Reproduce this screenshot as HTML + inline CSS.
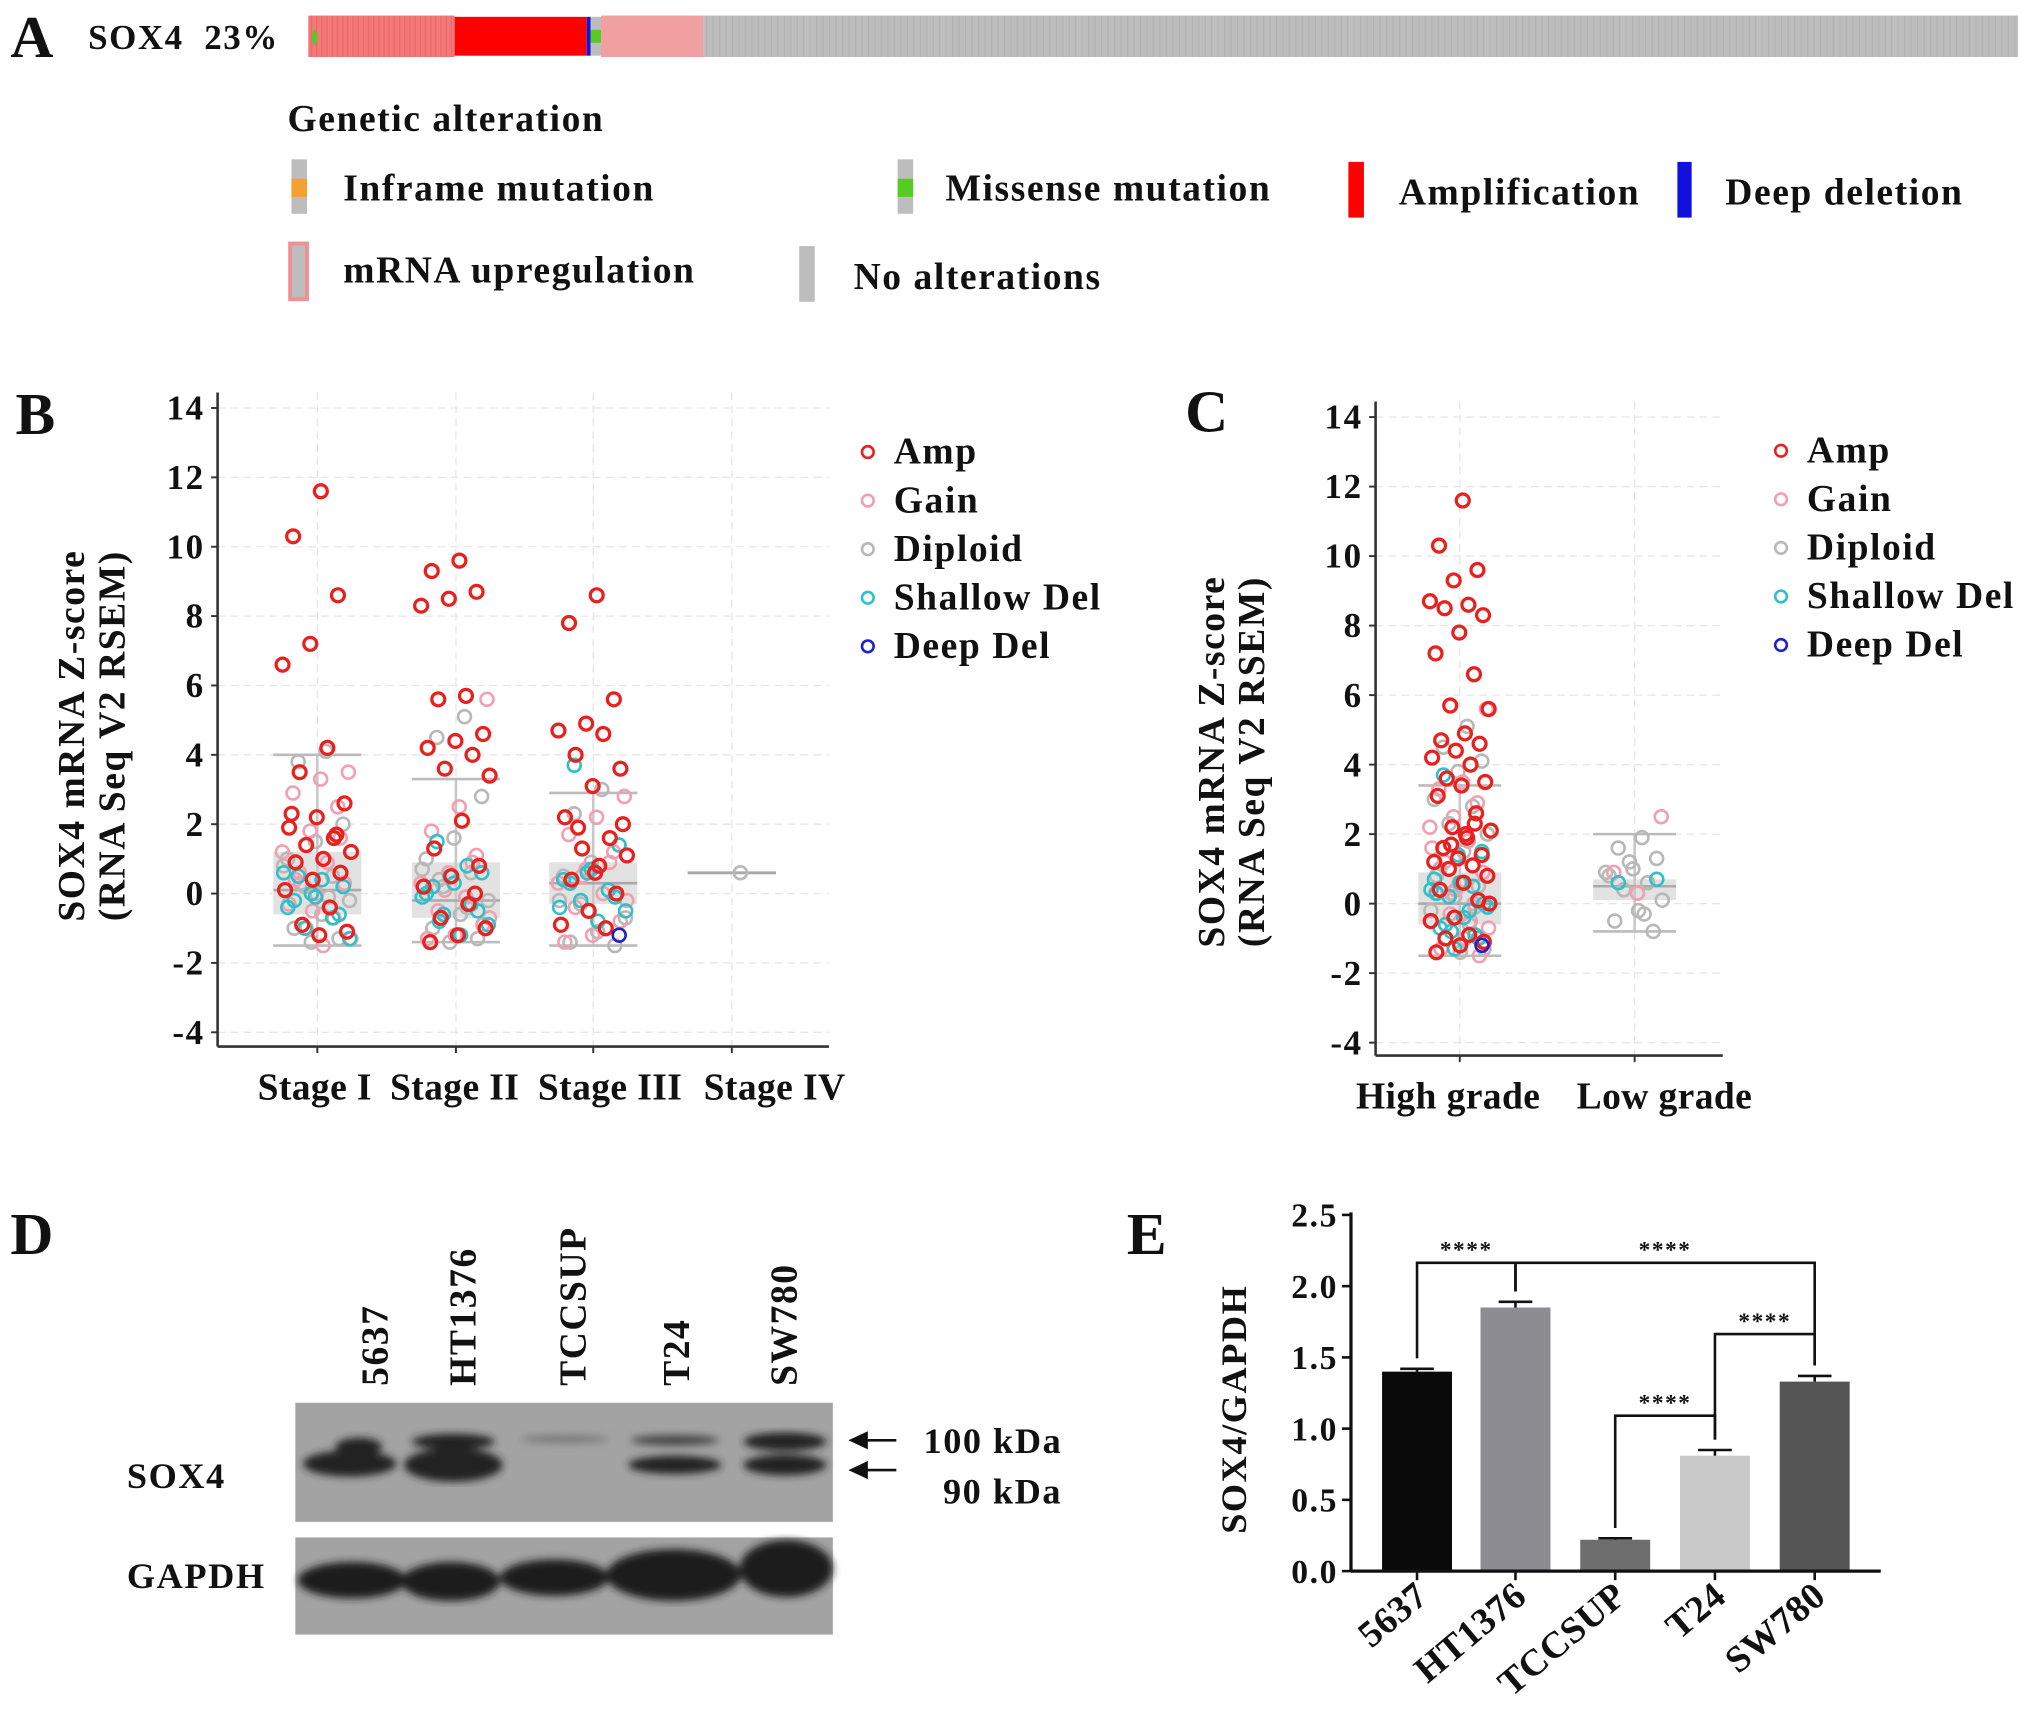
<!DOCTYPE html>
<html><head><meta charset="utf-8">
<style>
html,body{margin:0;padding:0;background:#fff;}
svg{display:block;}
text{font-family:"Liberation Serif",serif;font-weight:bold;fill:#111;letter-spacing:1.2px;}
text.cat{letter-spacing:0.3px;}
</style></head>
<body>
<svg id="fig" width="2031" height="1722" viewBox="0 0 1568 1329.5" preserveAspectRatio="none" xmlns="http://www.w3.org/2000/svg">
<defs>
<pattern id="stripes" width="4" height="10" patternUnits="userSpaceOnUse"><rect width="4" height="10" fill="#f47878"/><rect width="1" height="10" fill="#e86a6a"/></pattern>
<pattern id="gstripes" width="5" height="10" patternUnits="userSpaceOnUse"><rect width="5" height="10" fill="#bdbdbd"/><rect width="1" height="10" fill="#b2b2b2"/></pattern>
<filter id="blur"><feGaussianBlur stdDeviation="3"/></filter>
</defs>

<g>
<text x="8" y="44" font-size="46">A</text>
<text x="68" y="38" font-size="27">SOX4&#160; 23%</text>
<rect x="543" y="12" width="1015" height="32" fill="url(#gstripes)"/>
<rect x="238" y="12" width="113" height="32" fill="url(#stripes)"/>
<rect x="351" y="13" width="102" height="30" fill="#ff0000"/>
<rect x="453" y="13" width="3" height="30" fill="#1010e0"/>
<rect x="456" y="13" width="8" height="30" fill="#bdbdbd"/>
<rect x="456" y="23" width="8" height="10" fill="#55cc22"/>
<rect x="464" y="12" width="79" height="32" fill="#f0a0a0"/>
<ellipse cx="243" cy="29" rx="2" ry="6" fill="#55cc22"/>
<text x="222" y="101" font-size="29">Genetic alteration</text>
<g><rect x="225" y="123" width="12" height="42" fill="#bdbdbd"/><rect x="225" y="138" width="12" height="14" fill="#f5a030"/><text x="265" y="155" font-size="29">Inframe mutation</text></g>
<g><rect x="693" y="123" width="12" height="42" fill="#bdbdbd"/><rect x="693" y="138" width="12" height="14" fill="#55cc22"/><text x="730" y="155" font-size="29">Missense mutation</text></g>
<g><rect x="1041" y="125" width="12" height="43" fill="#ff0000"/><text x="1080" y="158" font-size="29">Amplification</text></g>
<g><rect x="1295" y="125" width="11" height="43" fill="#1010e0"/><text x="1332" y="158" font-size="29">Deep deletion</text></g>
<g><rect x="224" y="188" width="13" height="43" fill="#bdbdbd" stroke="#f09090" stroke-width="3"/><text x="265" y="218" font-size="29">mRNA upregulation</text></g>
<g><rect x="617" y="190" width="12" height="43" fill="#bdbdbd"/><text x="659" y="223" font-size="29">No alterations</text></g>
</g>

<g id="panelB"></g>
<g id="panelC"></g>

<g>
<text x="8" y="968" font-size="46">D</text>
<g font-size="29">
<text transform="translate(299,1070) rotate(-90)">5637</text>
<text transform="translate(367,1070) rotate(-90)">HT1376</text>
<text transform="translate(452,1070) rotate(-90)">TCCSUP</text>
<text transform="translate(532,1070) rotate(-90)">T24</text>
<text transform="translate(615,1070) rotate(-90)">SW780</text>
</g>
<g>
<rect x="228" y="1083" width="415" height="92" fill="#a3a3a3"/>
<g filter="url(#blur)" fill="#222">
<ellipse cx="270" cy="1130" rx="36" ry="10"/><ellipse cx="277" cy="1117" rx="18" ry="7"/>
<ellipse cx="350" cy="1131" rx="38" ry="13"/><ellipse cx="350" cy="1113" rx="32" ry="6"/>
<ellipse cx="436" cy="1111" rx="34" ry="3" fill="#777"/>
<ellipse cx="521" cy="1131" rx="36" ry="7"/><ellipse cx="521" cy="1112" rx="34" ry="4" fill="#444"/>
<ellipse cx="606" cy="1131" rx="32" ry="8"/><ellipse cx="606" cy="1113" rx="32" ry="7"/>
</g></g>
<g>
<rect x="228" y="1187" width="415" height="75" fill="#a3a3a3"/>
<g filter="url(#blur)" fill="#1e1e1e">
<ellipse cx="272" cy="1220" rx="42" ry="14"/><ellipse cx="348" cy="1221" rx="38" ry="15"/>
<ellipse cx="428" cy="1218" rx="42" ry="14"/><ellipse cx="520" cy="1216" rx="52" ry="20"/>
<ellipse cx="607" cy="1211" rx="36" ry="22"/>
</g></g>
<text x="98" y="1149" font-size="28">SOX4</text>
<text x="98" y="1226" font-size="28">GAPDH</text>
<g><line x1="668" y1="1112" x2="692" y2="1112" stroke="#111" stroke-width="2"/><polygon points="655,1112 670,1105 670,1119" fill="#111"/></g>
<g><line x1="668" y1="1135" x2="692" y2="1135" stroke="#111" stroke-width="2"/><polygon points="655,1135 670,1128 670,1142" fill="#111"/></g>
<text x="713" y="1122" font-size="28">100 kDa</text>
<text x="728" y="1161" font-size="28">90 kDa</text>
</g>

<g id="panelE"></g>
</svg>

<script>
const NS="http://www.w3.org/2000/svg";
function mk(parent,tag,attrs,txt){const e=document.createElementNS(NS,tag);for(const k in attrs)e.setAttribute(k,attrs[k]);if(txt!==undefined)e.textContent=txt;parent.appendChild(e);return e;}
const COLORS={amp:"#e8201e",gain:"#f0a0b0",dip:"#b8b8b8",shal:"#30c0c8",deep:"#2020d0"};

const stageCats=["Stage I","Stage II","Stage III","Stage IV"];
const yTicksZ=[14,12,10,8,6,4,2,0,-2,-4];
const stageBoxQ1=[-0.6,-0.7,-0.3,0.55];
const stageBoxMed=[0.1,-0.2,0.3,0.6];
const stageBoxQ3=[1.2,0.9,0.9,0.65];
const stageWhLo=[-1.5,-1.4,-1.5,0.6];
const stageWhHi=[4.0,3.3,2.9,0.6];
const stageAmp=[[11.6,10.3,8.6,7.2,6.6,4.2,3.5,2.6,2.2,1.9,1.6,1.4,1.2,1.0,0.9,0.6,0.4,0.1,-0.4,-0.9,-1.1,-1.2,2.3,1.7],
 [9.6,9.3,8.7,8.5,8.3,5.7,5.6,4.6,4.4,4.2,4.0,3.6,3.4,2.1,1.3,0.8,0.5,0.2,-0.3,-0.7,-1.0,-1.2,-1.4,0.0],
 [8.6,7.8,5.6,4.9,4.7,4.6,4.0,3.6,3.1,2.2,1.6,1.3,1.1,0.8,0.4,0.0,-0.5,-0.9,-1.0,1.9,2.0,0.6],
 []];
const stageGain=[[3.5,3.3,2.9,2.5,1.8,1.2,0.9,0.6,0.3,0.0,-0.3,-0.7,-1.0,-1.3,-1.5,0.4,1.6,-0.5],
 [5.6,2.5,1.8,1.1,0.6,0.3,-0.1,-0.5,-0.9,-1.2,-1.3,0.9,0.1,-0.7],
 [2.8,2.2,1.7,1.2,0.7,0.3,0.0,-0.4,-0.8,-1.2,-1.4,0.9,0.5,-0.2],
 []];
const stageDip=[[4.1,3.8,2.0,1.5,1.0,0.5,0.2,-0.2,-0.6,-1.0,-1.3,-1.4,0.8,-0.1,0.3],
 [5.1,4.5,2.8,1.6,1.0,0.6,0.2,-0.2,-0.6,-1.0,-1.3,-1.4,0.7,-0.4,0.4],
 [3.0,2.3,1.4,0.9,0.5,0.1,-0.3,-0.7,-1.1,-1.4,-1.5,0.7,-0.2],
 [0.6]];
const stageShal=[[0.5,0.2,-0.1,-0.4,-0.7,-1.0,-1.3,0.4,-0.2,-0.6,0.0,0.6],
 [1.5,0.6,0.3,0.0,-0.3,-0.6,-0.9,-1.2,0.2,-0.5,0.5,-0.1,0.8,-0.8],
 [3.7,1.4,0.7,0.4,0.1,-0.2,-0.5,-0.8,0.3,-0.1,0.6,-0.4],
 []];
const stageDeep=[[],[],[-1.2],[]];

const gradeCats=["High grade","Low grade"];
const gradeBoxQ1=[-0.6,0.1];
const gradeBoxMed=[0.0,0.5];
const gradeBoxQ3=[0.9,0.7];
const gradeWhLo=[-1.5,-0.8];
const gradeWhHi=[3.4,2.0];
const gradeAmp=[[11.6,10.3,9.6,9.3,8.7,8.6,8.5,8.3,7.8,7.2,6.6,5.7,5.6,4.9,4.7,4.6,4.4,4.2,4.0,3.6,3.5,3.4,3.1,2.6,2.2,2.1,1.9,1.6,1.4,1.3,1.2,1.1,1.0,0.8,0.6,0.4,0.1,-0.4,-0.5,-0.9,-1.0,-1.1,-1.2,-1.4,2.3,1.7,0.0,2.0],[]];
const gradeGain=[[5.6,3.5,3.3,2.9,2.5,2.2,1.8,1.2,0.9,0.6,0.3,0.0,-0.3,-0.7,-1.0,-1.3,-1.5,0.4,1.6,-0.5],[2.5,0.3,0.9]];
const gradeDip=[[5.1,4.5,4.1,3.8,3.0,2.8,2.3,2.0,1.5,1.0,0.5,0.2,-0.2,-0.6,-1.0,-1.3,-1.4,0.8,-0.1,0.3],[1.9,1.6,1.3,1.0,0.8,0.6,0.4,0.1,-0.2,-0.5,-0.8,1.2,0.9,-0.3]];
const gradeShal=[[3.7,1.5,1.4,0.7,0.5,0.2,-0.1,-0.4,-0.7,-1.0,-1.3,0.4,-0.2,-0.6,0.0,0.6,0.3,-0.9,-0.8],[0.6,0.7]];
const gradeDeep=[[-1.2],[]];

const lines=["5637","HT1376","TCCSUP","T24","SW780"];
const ratioVals=[1.40,1.85,0.22,0.81,1.33];
const ratioErr=[0.02,0.04,0.01,0.04,0.04];
const eTicks=["0.0","0.5","1.0","1.5","2.0","2.5"];
const barColors=["#0a0a0a","#8c8c92","#6e6e6e","#c9c9c9","#555555"];
const sigPairs=[[0,1],[1,4],[2,3],[3,4]];
const sigLabels=["****","****","****","****"];

function jitter(i,salt){const f=((i+1)*0.6180339887+salt*0.31)%1;return (f-0.5);}

function scatterPanel(g,o){
  const yS=v=>o.y14+(14-v)*(o.y_4-o.y14)/18;
  o.yTicks.forEach(t=>{const l=mk(g,"line",{x1:o.x0,x2:o.x1,y1:yS(t),y2:yS(t),stroke:"#e6e6e6","stroke-dasharray":"6,4"});
    
    
    const tx=mk(g,"text",{x:o.x0-10,y:yS(t)+9,"font-size":27,"text-anchor":"end"},String(t));
    
    
    mk(g,"line",{x1:o.x0-5,x2:o.x0,y1:yS(t),y2:yS(t),stroke:"#333","stroke-width":1.5});
  });
  o.cats.forEach((c,i)=>{mk(g,"line",{x1:o.cx[i],x2:o.cx[i],y1:o.yTop,y2:o.yBot,stroke:"#e6e6e6","stroke-dasharray":"6,4"});});
  o.cats.forEach((c,i)=>{
    const cx=o.cx[i],w=o.bw;
    const bx=mk(g,"rect",{x:cx-w/2,y:yS(o.q3[i]),width:w,height:Math.max(3,yS(o.q1[i])-yS(o.q3[i])),fill:"#e2e2e2"});
    
    
    mk(g,"line",{x1:cx,x2:cx,y1:yS(o.hi[i]),y2:yS(o.lo[i]),stroke:"#c8c8c8","stroke-width":2});
    [o.hi[i],o.lo[i]].forEach(v=>mk(g,"line",{x1:cx-w/2,x2:cx+w/2,y1:yS(v),y2:yS(v),stroke:"#bbb","stroke-width":2}));
    mk(g,"line",{x1:cx-w/2,x2:cx+w/2,y1:yS(o.med[i]),y2:yS(o.med[i]),stroke:"#aaa","stroke-width":2});
  });
  const groups=[["dip",o.dip],["gain",o.gain],["shal",o.shal],["amp",o.amp],["deep",o.deep]];
  groups.forEach(([k,arr],gi)=>{
    arr.forEach((vals,ci)=>{vals.forEach((v,j)=>{
      const c=mk(g,"circle",{cx:o.cx[ci]+jitter(j,gi)*o.jw,cy:yS(v),r:5,fill:"none",stroke:COLORS[k],"stroke-width":k==="amp"?2.5:2});
      
      
    });});
  });
  mk(g,"line",{x1:o.x0,x2:o.x0,y1:o.yTop,y2:o.yBot,stroke:"#333","stroke-width":2});
  mk(g,"line",{x1:o.x0,x2:o.x1,y1:o.yBot,y2:o.yBot,stroke:"#333","stroke-width":2});
  o.cats.forEach((c,i)=>{
    mk(g,"line",{x1:o.cx[i],x2:o.cx[i],y1:o.yBot,y2:o.yBot+5,stroke:"#333","stroke-width":1.5});
    const t=mk(g,"text",{x:o.lx[i],y:o.yBot+41,"font-size":29,"text-anchor":"middle","class":"cat"},c);
    
    
  });
  const yt=mk(g,"text",{transform:`translate(${o.ytX},${o.ytY}) rotate(-90)`,"font-size":29,"text-anchor":"middle"});
  
  
  mk(yt,"tspan",{x:0,dy:0},"SOX4 mRNA Z-score");
  mk(yt,"tspan",{x:0,dy:31},"(RNA Seq V2 RSEM)");
  const names=[["amp","Amp"],["gain","Gain"],["dip","Diploid"],["shal","Shallow Del"],["deep","Deep Del"]];
  names.forEach(([k,n],i)=>{
    const y=o.legY+i*37.5;
    const le=mk(g,"g",{});
    
    
    mk(le,"circle",{cx:o.legX,cy:y,r:4.5,fill:"none",stroke:COLORS[k],"stroke-width":2});
    mk(le,"text",{x:o.legX+20,y:y+9,"font-size":29},n);
  });
  const pl=mk(g,"text",{x:o.lblX,y:o.lblY,"font-size":46},o.label);
  
  
}

scatterPanel(document.getElementById("panelB"),{cats:stageCats,cx:[245,352,458,565],lx:[243,351,471,598],x0:168,x1:640,yTop:303,yBot:808,y14:315,y_4:797,
  yTicks:yTicksZ,q1:stageBoxQ1,q3:stageBoxQ3,med:stageBoxMed,lo:stageWhLo,hi:stageWhHi,bw:68,jw:56,
  amp:stageAmp,gain:stageGain,dip:stageDip,shal:stageShal,deep:stageDeep,ytX:65,ytY:568,legX:670,legY:349,label:"B",lblX:12,lblY:335});
scatterPanel(document.getElementById("panelC"),{cats:gradeCats,cx:[1127,1262],lx:[1118,1285],x0:1062,x1:1330,yTop:310,yBot:815,y14:322,y_4:805,
  yTicks:yTicksZ,q1:gradeBoxQ1,q3:gradeBoxQ3,med:gradeBoxMed,lo:gradeWhLo,hi:gradeWhHi,bw:64,jw:48,
  amp:gradeAmp,gain:gradeGain,dip:gradeDip,shal:gradeShal,deep:gradeDeep,ytX:945,ytY:588,legX:1375,legY:348,label:"C",lblX:915,lblY:333});

(function(){
  const g=document.getElementById("panelE");
  const x0=1043,x1=1452,yB=1213,yT=938;
  const yS=v=>yB-v*(yB-yT)/2.5;
  const cx=[1094,1170,1247,1324,1401],bw=54;
  eTicks.forEach(t=>{
    const v=parseFloat(t);
    mk(g,"line",{x1:x0-7,x2:x0,y1:yS(v),y2:yS(v),stroke:"#111","stroke-width":2});
    const tx=mk(g,"text",{x:x0-10,y:yS(v)+9,"font-size":26,"text-anchor":"end"},t);
    
    
  });
  ratioVals.forEach((v,i)=>{
    const b=mk(g,"rect",{x:cx[i]-bw/2,y:yS(v),width:bw,height:yB-yS(v),fill:barColors[i]});
    
    
    const e=ratioErr[i];
    mk(g,"line",{x1:cx[i],x2:cx[i],y1:yS(v+e),y2:yS(v),stroke:"#111","stroke-width":2});
    mk(g,"line",{x1:cx[i]-13,x2:cx[i]+13,y1:yS(v+e),y2:yS(v+e),stroke:"#111","stroke-width":2});
    mk(g,"line",{x1:cx[i],x2:cx[i],y1:yB,y2:yB+7,stroke:"#111","stroke-width":2});
    const t=mk(g,"text",{transform:`translate(${cx[i]+10},${yB+22}) rotate(-40)`,"font-size":29,"text-anchor":"end","class":"cat"},lines[i]);
    
    
  });
  mk(g,"line",{x1:x0,x2:x0,y1:yT-2,y2:yB,stroke:"#111","stroke-width":2.5});
  mk(g,"line",{x1:x0,x2:x1,y1:yB,y2:yB,stroke:"#111","stroke-width":2.5});
  sigPairs.forEach(([a,b],k)=>{
    const yl=[975,975,1093,1030][k];
    const ps=mk(g,"polyline",{points:`${cx[a]},${yS(ratioVals[a]+ratioErr[a])-8} ${cx[a]},${yl} ${cx[b]},${yl} ${cx[b]},${yS(ratioVals[b]+ratioErr[b])-8}`,fill:"none",stroke:"#111","stroke-width":2});
    
    
    mk(g,"text",{x:(cx[a]+cx[b])/2,y:yl-4,"font-size":18,"text-anchor":"middle"},sigLabels[k]);
  });
  const yt=mk(g,"text",{transform:"translate(962,1088) rotate(-90)","font-size":28,"text-anchor":"middle"},"SOX4/GAPDH");
  
  
  const pl=mk(g,"text",{x:870,y:968,"font-size":46},"E");
  
  
})();
</script>
</body></html>
